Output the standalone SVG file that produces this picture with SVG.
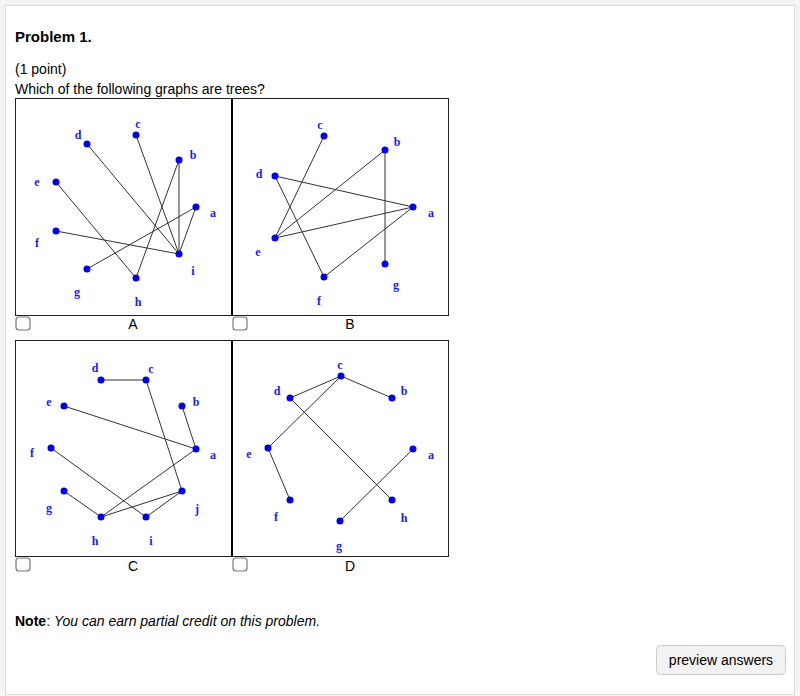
<svg xmlns="http://www.w3.org/2000/svg" width="800" height="696" viewBox="0 0 800 696">
<style>
.t{font-family:"Liberation Sans",Arial,sans-serif;fill:#000}
.l{font-family:"Liberation Serif","Times New Roman",serif;font-weight:bold;font-size:12px;fill:#1a1aff;text-anchor:middle}
.e line{stroke:#333;stroke-width:1}
.n{fill:#0000ee}
.box{fill:#fff;stroke:#222;stroke-width:1}
.cb{fill:#fff;stroke:#777;stroke-width:1.2}
</style>
<rect x="0" y="0" width="800" height="696" fill="#f4f4f4"/>
<rect x="5.5" y="5.5" width="789" height="689" fill="#fff" stroke="#ddd"/>
<text class="t" x="15" y="42" font-size="15" font-weight="bold">Problem 1.</text>
<text class="t" x="15" y="74" font-size="14">(1 point)</text>
<text class="t" x="15" y="94" font-size="14">Which of the following graphs are trees?</text>
<rect class="box" x="15.5" y="98.5" width="433" height="217"/>
<line x1="232" y1="98" x2="232" y2="316" stroke="#000" stroke-width="2"/>
<rect class="box" x="15.5" y="340.5" width="433" height="216"/>
<line x1="232" y1="340" x2="232" y2="557" stroke="#000" stroke-width="2"/>
<g id="connectors" class="e">
<line x1="87" y1="144" x2="179" y2="254"/><line x1="136" y1="135" x2="179" y2="254"/><line x1="179" y1="160" x2="179" y2="254"/><line x1="196" y1="207" x2="179" y2="254"/><line x1="56" y1="231" x2="179" y2="254"/><line x1="56" y1="182" x2="136" y2="278"/><line x1="179" y1="160" x2="136" y2="278"/><line x1="87" y1="269" x2="196" y2="207"/>
<line x1="324" y1="136" x2="275" y2="238"/><line x1="385" y1="150" x2="275" y2="238"/><line x1="275" y1="176" x2="413" y2="207"/><line x1="275" y1="176" x2="324" y2="277"/><line x1="275" y1="238" x2="413" y2="207"/><line x1="413" y1="207" x2="324" y2="277"/><line x1="385" y1="150" x2="385" y2="264"/>
<line x1="101" y1="380" x2="146" y2="380"/><line x1="146" y1="380" x2="182" y2="491"/><line x1="64" y1="406" x2="196" y2="449"/><line x1="182" y1="406" x2="196" y2="449"/><line x1="196" y1="449" x2="101" y2="517"/><line x1="51" y1="448" x2="146" y2="517"/><line x1="64" y1="491" x2="101" y2="517"/><line x1="101" y1="517" x2="182" y2="491"/><line x1="146" y1="517" x2="182" y2="491"/>
<line x1="290" y1="398" x2="341" y2="376"/><line x1="341" y1="376" x2="392" y2="398"/><line x1="341" y1="376" x2="268" y2="448"/><line x1="290" y1="398" x2="392" y2="500"/><line x1="268" y1="448" x2="290" y2="500"/><line x1="413" y1="449" x2="340" y2="521"/>
</g>
<g id="graphA">
<g class="n"><circle cx="87" cy="144" r="3.5"/><circle cx="136" cy="135" r="3.5"/><circle cx="179" cy="160" r="3.5"/><circle cx="56" cy="182" r="3.5"/><circle cx="196" cy="207" r="3.5"/><circle cx="56" cy="231" r="3.5"/><circle cx="179" cy="254" r="3.5"/><circle cx="87" cy="269" r="3.5"/><circle cx="136" cy="278" r="3.5"/></g>
<text class="l" x="138" y="128">c</text><text class="l" x="78" y="139">d</text><text class="l" x="193" y="159">b</text><text class="l" x="37" y="186">e</text><text class="l" x="213" y="217">a</text><text class="l" x="37" y="247">f</text><text class="l" x="193" y="275">i</text><text class="l" x="77" y="296">g</text><text class="l" x="138" y="306">h</text>
</g>
<g id="graphB">
<g class="n"><circle cx="324" cy="136" r="3.5"/><circle cx="385" cy="150" r="3.5"/><circle cx="275" cy="176" r="3.5"/><circle cx="413" cy="207" r="3.5"/><circle cx="275" cy="238" r="3.5"/><circle cx="385" cy="264" r="3.5"/><circle cx="324" cy="277" r="3.5"/></g>
<text class="l" x="320" y="129">c</text><text class="l" x="397" y="146">b</text><text class="l" x="259" y="178">d</text><text class="l" x="431" y="217">a</text><text class="l" x="258" y="256">e</text><text class="l" x="396" y="289">g</text><text class="l" x="319" y="305">f</text>
</g>
<g id="graphC">
<g class="n"><circle cx="101" cy="380" r="3.5"/><circle cx="146" cy="380" r="3.5"/><circle cx="64" cy="406" r="3.5"/><circle cx="182" cy="406" r="3.5"/><circle cx="51" cy="448" r="3.5"/><circle cx="196" cy="449" r="3.5"/><circle cx="64" cy="491" r="3.5"/><circle cx="182" cy="491" r="3.5"/><circle cx="101" cy="517" r="3.5"/><circle cx="146" cy="517" r="3.5"/></g>
<text class="l" x="95" y="372">d</text><text class="l" x="151" y="373">c</text><text class="l" x="49" y="406">e</text><text class="l" x="196" y="406">b</text><text class="l" x="32" y="457">f</text><text class="l" x="213" y="459">a</text><text class="l" x="49" y="512">g</text><text class="l" x="197" y="513">j</text><text class="l" x="95" y="545">h</text><text class="l" x="151" y="545">i</text>
</g>
<g id="graphD">
<g class="n"><circle cx="341" cy="376" r="3.5"/><circle cx="290" cy="398" r="3.5"/><circle cx="392" cy="398" r="3.5"/><circle cx="268" cy="448" r="3.5"/><circle cx="413" cy="449" r="3.5"/><circle cx="290" cy="500" r="3.5"/><circle cx="392" cy="500" r="3.5"/><circle cx="340" cy="521" r="3.5"/></g>
<text class="l" x="340" y="369">c</text><text class="l" x="277" y="395">d</text><text class="l" x="404" y="395">b</text><text class="l" x="249" y="458">e</text><text class="l" x="431" y="459">a</text><text class="l" x="276" y="521">f</text><text class="l" x="404" y="522">h</text><text class="l" x="339" y="550">g</text>
</g>
<g id="choices">
<rect class="cb" x="16" y="317" width="14" height="13" rx="3"/><text class="t" x="133" y="329" font-size="14" text-anchor="middle">A</text>
<rect class="cb" x="233" y="317" width="14" height="13" rx="3"/><text class="t" x="350" y="329" font-size="14" text-anchor="middle">B</text>
<rect class="cb" x="16" y="558" width="14" height="13" rx="3"/><text class="t" x="133" y="571" font-size="14" text-anchor="middle">C</text>
<rect class="cb" x="233" y="558" width="14" height="13" rx="3"/><text class="t" x="350" y="571" font-size="14" text-anchor="middle">D</text>
</g>
<text class="t" x="15" y="626" font-size="14"><tspan font-weight="bold">Note</tspan>: <tspan font-style="italic">You can earn partial credit on this problem.</tspan></text>
<g id="button">
<rect x="656.5" y="645.5" width="129" height="29" rx="4" fill="#f2f2f2" stroke="#ccc"/>
<text class="t" x="721" y="665" font-size="14" text-anchor="middle" fill="#333">preview answers</text>
</g>
</svg>
